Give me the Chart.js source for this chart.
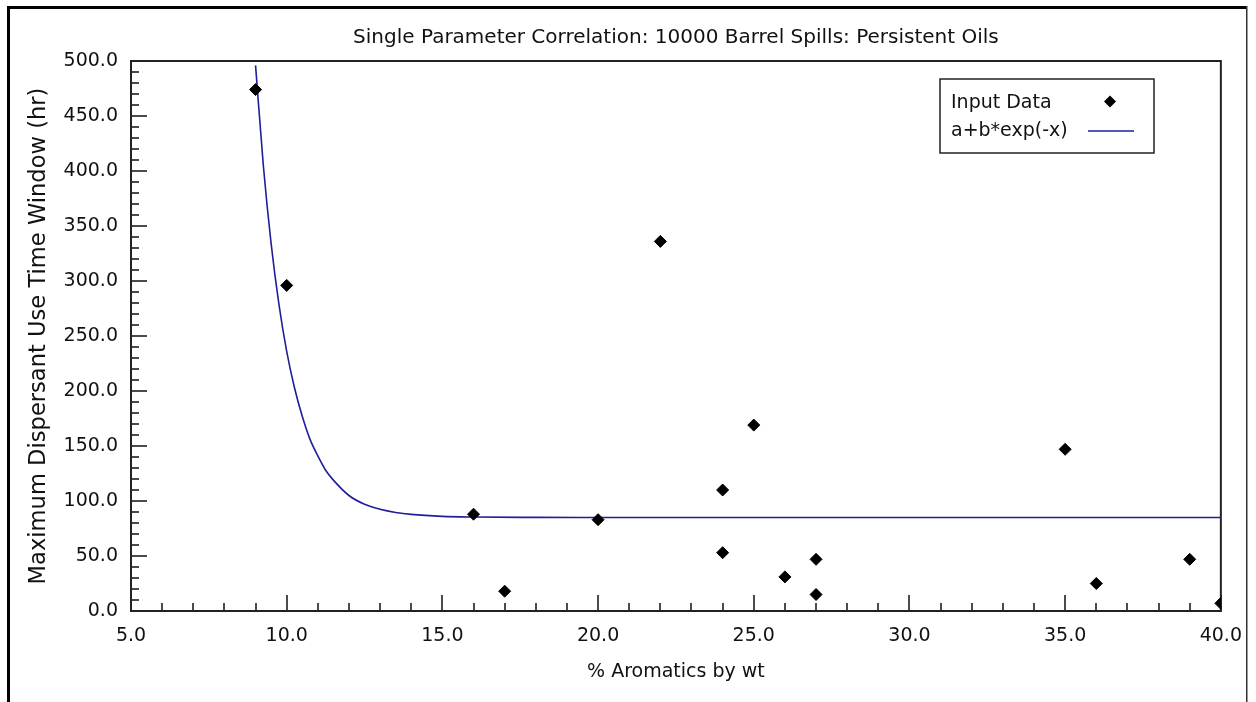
<!DOCTYPE html>
<html>
<head>
<meta charset="utf-8">
<title>Single Parameter Correlation</title>
<script src="https://cdn.jsdelivr.net/npm/chart.js@4.4.1/dist/chart.umd.min.js"></script>
<style>
  html, body { margin: 0; padding: 0; background: #fff; }
  #wrap { width: 1256px; height: 702px; }
</style>
</head>
<body>
<div id="wrap"><canvas id="corrChart" width="1256" height="702"></canvas></div>
<script>
// Input data
const aromatics = [9, 10, 16, 17, 20, 22, 24, 24, 25, 26, 27, 27, 35, 36, 39, 40];
const timeWindow = [474, 296, 88, 18, 83, 336, 110, 53, 169, 31, 47, 15, 147, 25, 47, 7];

// Fitted curve a+b*exp(-x), sampled by eye along the blue line
const fitX = [9.0, 9.25, 9.5, 9.75, 10.0, 10.25, 10.5, 10.75, 11.0, 11.25, 11.5, 12.0, 12.5, 13.0, 13.5, 14.0, 15.0, 16.0, 18.0, 20.0, 25.0, 30.0, 35.0, 40.0];
const fitY = [496, 405, 334, 279, 236, 203, 177, 156, 141, 128, 119, 105, 97, 92.5, 89.6, 87.8, 86, 85.4, 85.1, 85, 85, 85, 85, 85];

// Tick labels
const xTickValues = [5, 10, 15, 20, 25, 30, 35, 40];
const yTickValues = [0, 50, 100, 150, 200, 250, 300, 350, 400, 450, 500];

const seriesLabels = ["Input Data", "a+b*exp(-x)"];
const chartTitle = "Single Parameter Correlation: 10000 Barrel Spills: Persistent Oils";
const xTitle = "% Aromatics by wt";
const yTitle = "Maximum Dispersant Use Time Window (hr)";

const FONT = "'DejaVu Sans', 'Liberation Sans', sans-serif";
const LINE_COLOR = "#1f1f99";

Chart.defaults.font.family = FONT;
Chart.defaults.color = "#111";

// Frame, inward tick marks and the boxed legend
const plotFrame = {
  id: "plotFrame",
  beforeDraw(chart) {
    const ctx = chart.ctx;
    ctx.save();
    ctx.fillStyle = "#000";
    ctx.fillRect(7, 6, 3, 702);
    ctx.fillRect(7, 6, 1240, 3);
    ctx.fillStyle = "#333";
    ctx.fillRect(1246, 6, 1.5, 702);
    ctx.restore();
  },
  beforeDatasetsDraw(chart) {
    const { ctx, chartArea: a, scales: { x, y } } = chart;
    ctx.save();
    ctx.strokeStyle = "#111";
    ctx.lineWidth = 1.5;
    ctx.beginPath();
    for (let v = x.min; v <= x.max; v += 1) {
      const px = Math.round(x.getPixelForValue(v));
      const len = v % 5 === 0 ? 16 : 8;
      ctx.moveTo(px, a.bottom);
      ctx.lineTo(px, a.bottom - len);
    }
    for (let v = y.min; v <= y.max; v += 10) {
      const py = Math.round(y.getPixelForValue(v));
      const len = v % 50 === 0 ? 16 : 8;
      ctx.moveTo(a.left, py);
      ctx.lineTo(a.left + len, py);
    }
    ctx.stroke();
    ctx.lineWidth = 2;
    ctx.strokeStyle = "#222";
    ctx.strokeRect(a.left, a.top, a.right - a.left, a.bottom - a.top);
    ctx.restore();
  },
  afterDraw(chart) {
    const ctx = chart.ctx;
    const ds = chart.data.datasets;
    ctx.save();
    ctx.fillStyle = "#fff";
    ctx.fillRect(940, 79, 214, 74);
    ctx.strokeStyle = "#222";
    ctx.lineWidth = 1.5;
    ctx.strokeRect(940, 79, 214, 74);
    ctx.fillStyle = "#111";
    ctx.font = "19px " + FONT;
    ctx.textBaseline = "middle";
    ctx.fillText(ds[0].label, 951, 103);
    ctx.fillText(ds[1].label, 951, 131);
    // diamond marker
    ctx.beginPath();
    ctx.moveTo(1110, 95.5);
    ctx.lineTo(1116, 101.5);
    ctx.lineTo(1110, 107.5);
    ctx.lineTo(1104, 101.5);
    ctx.closePath();
    ctx.fillStyle = "#000";
    ctx.fill();
    // line sample
    ctx.strokeStyle = LINE_COLOR;
    ctx.lineWidth = 1.6;
    ctx.beginPath();
    ctx.moveTo(1088, 131);
    ctx.lineTo(1134, 131);
    ctx.stroke();
    ctx.restore();
  }
};

const ctx = document.getElementById("corrChart").getContext("2d");
new Chart(ctx, {
  type: "scatter",
  data: {
    datasets: [
      {
        label: seriesLabels[0],
        data: aromatics.map((v, i) => ({ x: v, y: timeWindow[i] })),
        pointStyle: "rectRot",
        pointRadius: 6,
        pointBorderWidth: 1,
        pointBackgroundColor: "#000",
        pointBorderColor: "#000",
        showLine: false,
        order: 0,
      },
      {
        label: seriesLabels[1],
        data: fitX.map((v, i) => ({ x: v, y: fitY[i] })),
        showLine: true,
        borderColor: LINE_COLOR,
        borderWidth: 1.6,
        pointRadius: 0,
        cubicInterpolationMode: "monotone",
        fill: false,
        order: 1,
      },
    ],
  },
  options: {
    responsive: false,
    animation: false,
    devicePixelRatio: 1,
    events: [],
    layout: { padding: { left: 8, right: 35, top: 8, bottom: 11 } },
    plugins: {
      legend: { display: false },
      tooltip: { enabled: false },
      title: {
        display: true,
        text: chartTitle,
        fullSize: false,
        color: "#111",
        font: { size: 20, weight: "normal" },
        padding: { top: 18, bottom: 11 },
      },
    },
    scales: {
      x: {
        type: "linear",
        min: 5,
        max: 40,
        afterBuildTicks: (s) => { s.ticks = xTickValues.map((v) => ({ value: v })); },
        afterFit: (s) => { s.height = 80; },
        grid: { display: false, drawTicks: false },
        border: { display: false },
        ticks: {
          padding: 14,
          maxRotation: 0,
          color: "#111",
          font: { size: 19 },
          callback: (v) => Number(v).toFixed(1),
        },
        title: {
          display: true,
          text: xTitle,
          color: "#111",
          font: { size: 19 },
          padding: { top: 0, bottom: 8 },
        },
      },
      y: {
        type: "linear",
        min: 0,
        max: 500,
        afterBuildTicks: (s) => { s.ticks = yTickValues.map((v) => ({ value: v })); },
        afterFit: (s) => { s.width = 123; },
        grid: { display: false, drawTicks: false },
        border: { display: false },
        ticks: {
          padding: 13,
          color: "#111",
          font: { size: 19 },
          callback: (v) => Number(v).toFixed(1),
        },
        title: {
          display: true,
          text: yTitle,
          color: "#111",
          font: { size: 22.6 },
          padding: { top: 18, bottom: 0 },
        },
      },
    },
  },
  plugins: [plotFrame],
});
</script>
</body>
</html>
